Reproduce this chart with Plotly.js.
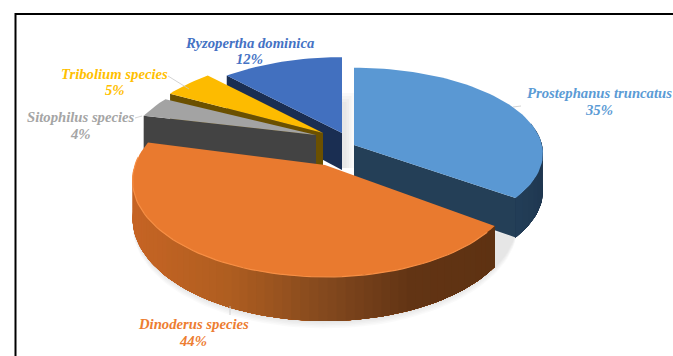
<!DOCTYPE html>
<html>
<head>
<meta charset="utf-8">
<script src="https://cdn.plot.ly/plotly-3.0.1.min.js"></script>
<style>html,body{margin:0;padding:0;background:#fff}#chart{width:673px;height:356px}</style>
</head>
<body>
<div id="chart"></div>
<script>
// Pest species shares
const species = ['Prostephanus truncatus', 'Dinoderus species', 'Sitophilus species', 'Tribolium species', 'Ryzopertha dominica'];
const shares = [35, 44, 4, 5, 12];

// Styling per slice
const topColours = ['#5a98d3', '#e97a2f', '#a3a3a3', '#fdbb00', '#4270bf'];
const cutColours = ['#243f57', '#5f3212', '#434343', '#6b5000', '#1a2e52'];
const labelColours = ['#5b9bd5', '#ed7d31', '#a5a5a5', '#ffc000', '#4472c4'];

// Exploded slice apex positions, in page pixels
const apexX = [354, 325, 316, 323, 342];
const apexY = [145, 165, 135, 133, 133];
// Each exploded slice sits at its own distance from the viewer
const radiusX = [188, 190, 185, 188, 188];
const tilt = [85, 94, 80, 88, 88];
const persp = [0.10, 0.16, 0.16, 0.16, 0.16];
const DEPTH = 37;

const labelX = [599, 193, 80.5, 114.5, 249.5];
const nameY = [93, 324, 117, 74, 43];
const valueY = [110, 341, 134, 90, 59];

function project(i, deg, drop) {
  const a = deg * Math.PI / 180;
  const X = Math.sin(a), Y = Math.cos(a);
  const s = 1 / (1 + persp[i] * Y);
  return [apexX[i] + radiusX[i] * X * s, apexY[i] - tilt[i] * Y * s + (drop ? DEPTH * s : 0)];
}

function arc(i, from, to, drop) {
  const pts = [];
  const n = Math.max(2, Math.ceil(Math.abs(to - from) / 2));
  for (let k = 0; k <= n; k++) pts.push(project(i, from + (to - from) * k / n, drop));
  return pts;
}

const traces = [];
function poly(pts, colour) {
  traces.push({
    type: 'scatter', mode: 'lines', hoverinfo: 'skip', showlegend: false,
    x: pts.map(p => p[0]).concat(pts[0][0]),
    y: pts.map(p => p[1]).concat(pts[0][1]),
    fill: 'toself', fillcolor: colour,
    line: {width: 0, color: colour}
  });
}
function mix(c1, c2, t) {
  return 'rgb(' + c1.map((v, j) => Math.round(v + (c2[j] - v) * t)).join(',') + ')';
}
// One band of a curved outer wall, running on to the far end so that bands leave no seams
function wallBand(i, from, to, colour) {
  const upper = arc(i, from, to, false), lower = arc(i, from, to, true).reverse();
  poly(upper.concat(lower), colour);
}

// Slice angles, clockwise from twelve o'clock
const starts = [];
shares.reduce((sum, v, i) => { starts[i] = sum * 3.6; return sum + v; }, 0);
const ends = shares.map((v, i) => starts[i] + v * 3.6);

// Soft ground shadow below the front slice
for (let g = 1; g <= 5; g++) {
  const pts = arc(1, 105, 280, true).map(p => [p[0], p[1] + g * 1.5]);
  poly(pts.concat([[apexX[1], apexY[1] + DEPTH]]), 'rgba(0,0,0,0.018)');
}
// Shadow cast beside the Ryzopertha slice
for (let g = 0; g < 4; g++) {
  const x0 = apexX[4], x1 = apexX[0] - g * 2.5;
  const y0 = apexY[4] - 40 + g * 3;
  poly([[x0, y0], [x1, y0], [x1, apexY[4] + 35], [x0, apexY[4] + 35]], 'rgba(0,0,0,0.022)');
}

function drawSlice(i, cutAngle) {
  const rim = project(i, cutAngle, false), low = project(i, cutAngle, true);
  poly([[apexX[i], apexY[i]], rim, low, [apexX[i], apexY[i] + DEPTH]], cutColours[i]);
}
function drawTop(i) {
  poly([[apexX[i], apexY[i]]].concat(arc(i, starts[i], ends[i], false)), topColours[i]);
}

// Back slices first, front slice last
drawSlice(4, starts[4]); drawTop(4);
drawSlice(3, starts[3]); drawTop(3);
drawSlice(2, starts[2]); drawTop(2);

// Prostephanus: outer wall, cut face, top
drawSlice(0, ends[0]);
const blueWallSteps = 12;
for (let k = 0; k < blueWallSteps; k++) {
  const a = 75 + (ends[0] - 75) * k / blueWallSteps;
  wallBand(0, a, ends[0], mix([26, 48, 72], [35, 62, 88], k / blueWallSteps));
}
drawTop(0);

// Dinoderus: shaded outer wall, left side catching the light
const wallStops = [[198, 100, 36], [176, 94, 32], [134, 74, 30], [98, 52, 20], [94, 50, 18]];
const wallFrom = ends[1] - 10, wallTo = starts[1], wallSteps = 64;
for (let k = 0; k < wallSteps; k++) {
  const a = wallFrom + (wallTo - wallFrom) * k / wallSteps;
  const xNorm = (project(1, a, false)[0] - 131) / 366;
  const pos = Math.min(0.9999, Math.max(0, xNorm)) * (wallStops.length - 1);
  const j = Math.floor(pos);
  wallBand(1, a, wallTo, mix(wallStops[j], wallStops[j + 1], pos - j));
}
drawTop(1);
// Highlight along the bevelled front rim
const rim = arc(1, 130, 275, false);
traces.push({
  type: 'scatter', mode: 'lines', hoverinfo: 'skip', showlegend: false,
  x: rim.map(p => p[0]), y: rim.map(p => p[1]),
  line: {color: '#f78f45', width: 1.2}
});

// Leader lines, label end then slice end
const leaders = [
  [[513, 107], [521, 106]],
  [[230, 306], [230, 315]],
  [[135, 118], [142, 116]],
  [[168, 76], [189, 89]]
];
leaders.forEach(l => traces.push({
  type: 'scatter', mode: 'lines', hoverinfo: 'skip', showlegend: false,
  x: l.map(p => p[0]), y: l.map(p => p[1]),
  line: {color: '#c8c8c8', width: 0.8}
}));

const labelFont = i => ({family: '"Liberation Serif", serif', size: 14.7, color: labelColours[i], style: 'italic', weight: 700});
const annotations = [];
species.forEach((name, i) => {
  annotations.push({x: labelX[i], y: nameY[i], xref: 'x', yref: 'y', text: name, showarrow: false,
    xanchor: 'center', yanchor: 'middle', font: labelFont(i)});
  annotations.push({x: labelX[i], y: valueY[i], xref: 'x', yref: 'y', text: shares[i] + '%', showarrow: false,
    xanchor: 'center', yanchor: 'middle', font: labelFont(i)});
});

const layout = {
  width: 673, height: 356,
  margin: {l: 0, r: 0, t: 0, b: 0, pad: 0},
  paper_bgcolor: '#fff', plot_bgcolor: '#fff',
  showlegend: false,
  xaxis: {range: [0, 673], visible: false, fixedrange: true},
  yaxis: {range: [356, 0], visible: false, fixedrange: true},
  annotations: annotations,
  shapes: [{type: 'rect', xref: 'paper', yref: 'paper', x0: 15.5 / 673, x1: 1.2, y0: -0.2, y1: 1 - 14 / 356,
            line: {color: '#000', width: 2}, fillcolor: 'rgba(0,0,0,0)'}]
};

Plotly.newPlot('chart', traces, layout, {displayModeBar: false, staticPlot: true});
</script>
</body>
</html>
